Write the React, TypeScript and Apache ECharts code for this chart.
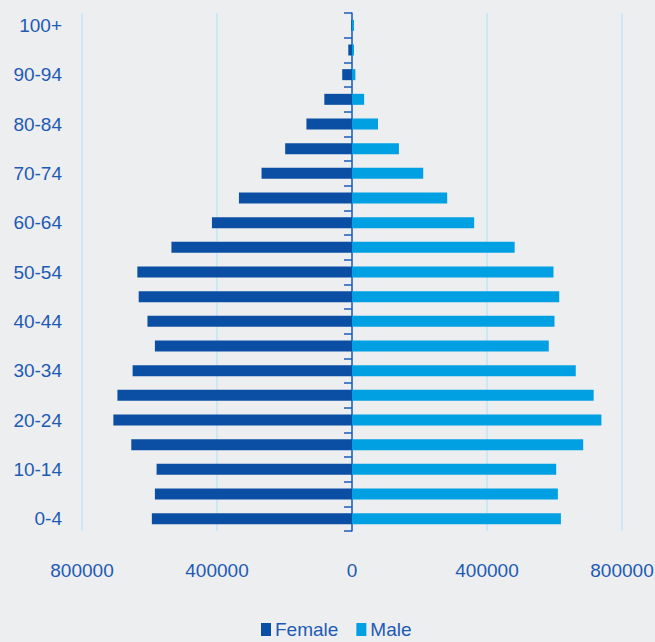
import React, { useEffect, useRef } from "react";
import * as echarts from "echarts";

// Five-year age groups, youngest first (bottom of the pyramid)
const ageGroups = [
  "0-4", "5-9", "10-14", "15-19", "20-24", "25-29", "30-34", "35-39",
  "40-44", "45-49", "50-54", "55-59", "60-64", "65-69", "70-74", "75-79",
  "80-84", "85-89", "90-94", "95-99", "100+",
];

// Population counts per age group
const female = [
  593000, 584000, 579000, 654000, 707000, 695000, 650000, 584000,
  606000, 632000, 636000, 535000, 415000, 335000, 268000, 198000,
  135000, 82000, 29000, 11000, 2000,
];
const male = [
  619000, 610000, 605000, 685000, 739000, 716000, 663000, 583000,
  600000, 614000, 597000, 482000, 362000, 282000, 211000, 139000,
  77000, 36000, 10000, 6000, 6000,
];

const valueTicks = { min: -800000, max: 800000, interval: 400000 };

const FONT = '"Liberation Sans", Arial, sans-serif';
const FONT_SIZE = 19;
const TEXT_COLOR = "#1d5ab4";
const FEMALE_COLOR = "#0a4fa3";
const MALE_COLOR = "#00a0e3";

export default function App() {
  const ref = useRef<HTMLDivElement>(null);

  useEffect(() => {
    if (!ref.current) return;
    const chart = echarts.init(ref.current, undefined, { renderer: "svg" });
    chart.setOption({
      animation: false,
      backgroundColor: "#edeef0",
      textStyle: { fontFamily: FONT },
      grid: {
        left: 82,
        right: 33,
        top: 13,
        bottom: 111,
        containLabel: false,
        outerBoundsMode: "none",
      },
      legend: {
        left: 256,
        top: 615,
        icon: "rect",
        itemWidth: 10,
        itemHeight: 13,
        itemGap: 18,
        textStyle: { color: TEXT_COLOR, fontSize: FONT_SIZE, fontFamily: FONT, padding: [0, 0, 0, -1] },
        data: ["Female", "Male"],
      },
      xAxis: {
        type: "value",
        min: valueTicks.min,
        max: valueTicks.max,
        interval: valueTicks.interval,
        axisLine: { show: false },
        axisTick: { show: false },
        splitLine: { lineStyle: { color: "#c3e5f6", width: 1.5 } },
        axisLabel: {
          color: TEXT_COLOR,
          fontSize: FONT_SIZE,
          fontFamily: FONT,
          margin: 30,
          showMinLabel: true,
          showMaxLabel: true,
          hideOverlap: false,
          formatter: (v: number) => String(Math.abs(v)),
        },
      },
      yAxis: {
        type: "category",
        data: ageGroups,
        axisLine: { onZero: true, lineStyle: { color: "#1a5cb8", width: 1.5 } },
        axisTick: { show: true, interval: 0, length: 8, lineStyle: { color: "#1a5cb8", width: 1.5 } },
        splitLine: { show: false },
        axisLabel: {
          color: TEXT_COLOR,
          fontSize: FONT_SIZE,
          fontFamily: FONT,
          interval: 1,
          margin: 20,
        },
      },
      series: [
        {
          name: "Female",
          type: "bar",
          barWidth: 11,
          barGap: "-100%",
          itemStyle: { color: FEMALE_COLOR },
          data: female.map((v) => -v),
          z: 2,
        },
        {
          name: "Male",
          type: "bar",
          barWidth: 11,
          itemStyle: { color: MALE_COLOR },
          data: male,
          z: 2,
        },
      ],
    });
    return () => chart.dispose();
  }, []);

  return (
    <div
      ref={ref}
      style={{ position: "fixed", left: 0, top: 0, width: 655, height: 642 }}
    />
  );
}
